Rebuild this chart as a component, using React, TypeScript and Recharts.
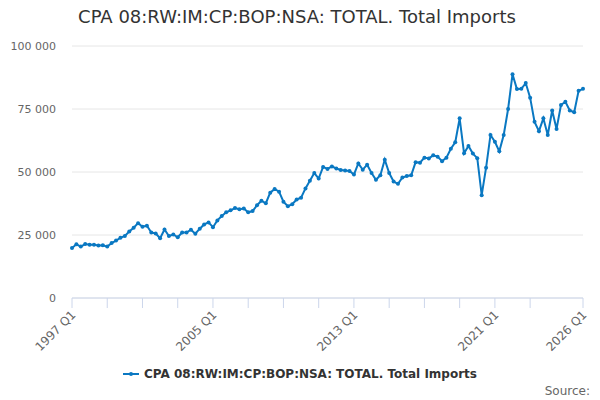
import { LineChart, Line, XAxis, YAxis, CartesianGrid } from "recharts";

const firstYear = 1997;
const quarterCount = 117;

// quarterly totals, 1997 Q1 .. 2026 Q1
const imports = [
  19800, 21300, 20400, 21400, 21100, 21100, 20800, 20900,
  20400, 21800, 22800, 23900, 24600, 26400, 27900, 29700,
  28300, 28700, 26000, 25600, 23700, 27200, 24600, 25200,
  24100, 26000, 26000, 27100, 25500, 27500, 29200, 30000,
  28100, 30800, 32500, 34000, 34800, 35700, 35200, 35500,
  34000, 34500, 36800, 38600, 37600, 41800, 43300, 42200,
  38200, 36400, 37200, 39100, 39800, 43500, 46500, 49600,
  47400, 52000, 51200, 52200, 51400, 50800, 50600, 50400,
  49000, 53400, 50900, 52900, 49600, 46900, 48700, 54900,
  49600, 46200, 45300, 47800, 48400, 48700, 53900, 53700,
  55700, 55400, 56600, 56100, 54300, 55700, 59200, 61800,
  71300, 57400, 60300, 57300, 55500, 40800, 51700, 64700,
  62000, 58200, 64700, 75000, 88800, 82900, 83000, 85300,
  79500, 69900, 66200, 71300, 64700, 74400, 67100, 76600,
  77900, 74400, 73700, 82200, 83000,
];

const quarters = Array.from(
  { length: quarterCount },
  (_, i) => `${firstYear + Math.floor(i / 4)} Q${(i % 4) + 1}`
);

const xLabels = ["1997 Q1", "2005 Q1", "2013 Q1", "2021 Q1", "2026 Q1"];
const yTicks = [0, 25000, 50000, 75000, 100000];

const seriesName = "CPA 08:RW:IM:CP:BOP:NSA: TOTAL. Total Imports";
const blue = "#0a78c2";

const data = quarters.map((q, i) => ({ quarter: q, value: imports[i] }));

// tick marks every 2 years, plus the last quarter
const xTicks = quarters.filter((_, i) => (i % 8 === 0 && i <= 104) || i === quarterCount - 1);

const fmt = (v: number) =>
  v === 0 ? "0" : String(v).replace(/\B(?=(\d{3})+(?!\d))/g, " ");

const RotatedTick = (props: any) => {
  const { x, y, payload } = props;
  if (!xLabels.includes(payload.value)) return null;
  return (
    <g transform={`translate(${x + 4.5},${y + 5.5})`}>
      <text
        x={0}
        y={0}
        textAnchor="end"
        transform="rotate(-45)"
        fill="#666"
        fontSize={12}
      >
        {payload.value}
      </text>
    </g>
  );
};

const App = () => {
  return (
    <div
      style={{
        position: "absolute",
        left: 0,
        top: 0,
        width: 600,
        height: 400,
        background: "#fff",
        fontFamily: "'DejaVu Sans', sans-serif",
      }}
    >
      <div
        style={{
          position: "absolute",
          top: 6,
          left: 0,
          width: 594,
          textAlign: "center",
          fontSize: 18,
          color: "#333",
        }}
      >
        {seriesName}
      </div>
      <LineChart
        width={600}
        height={400}
        data={data}
        margin={{ top: 46, right: 17, left: 10, bottom: 42 }}
      >
        <CartesianGrid vertical={false} stroke="#e6e6e6" />
        <XAxis
          dataKey="quarter"
          ticks={xTicks}
          interval={0}
          tick={<RotatedTick />}
          tickSize={10}
          height={60}
          stroke="#ccd6eb"
        />
        <YAxis
          domain={[0, 100000]}
          ticks={yTicks}
          tickFormatter={fmt}
          width={62}
          axisLine={false}
          tickLine={false}
          tickMargin={10}
          tick={{ fill: "#666", fontSize: 11 }}
        />
        <Line
          type="linear"
          dataKey="value"
          stroke={blue}
          strokeWidth={2}
          dot={{ r: 2, fill: blue, stroke: blue, strokeWidth: 0 }}
          isAnimationActive={false}
        />
      </LineChart>
      <div
        style={{
          position: "absolute",
          top: 367,
          left: 0,
          width: 600,
          display: "flex",
          justifyContent: "center",
          alignItems: "center",
          fontSize: 12,
          fontWeight: "bold",
          color: "#333",
        }}
      >
        <svg width={16} height={10} style={{ marginRight: 5 }}>
          <line x1={0} y1={5} x2={16} y2={5} stroke={blue} strokeWidth={2} />
          <circle cx={8} cy={5} r={2} fill={blue} />
        </svg>
        <span>{seriesName}</span>
      </div>
      <div
        style={{
          position: "absolute",
          top: 384,
          right: 10,
          fontSize: 12,
          color: "#666",
        }}
      >
        Source:
      </div>
    </div>
  );
};

export default App;
